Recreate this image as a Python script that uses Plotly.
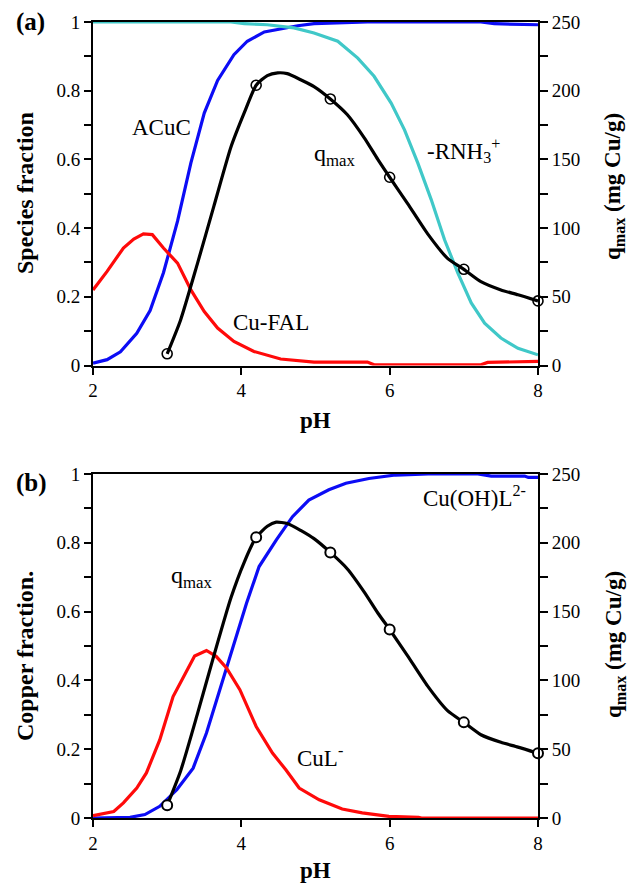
import plotly.graph_objects as go

# ---------------- data ----------------
# Panel (a)
a_acuc_ph = [2.0, 2.19, 2.37, 2.59, 2.77, 2.95, 3.14, 3.32, 3.5, 3.68, 3.9, 4.08, 4.31, 4.53, 4.76, 4.98, 5.43, 5.7, 7.23, 7.41, 8.0]
a_acuc = [0.007, 0.017, 0.04, 0.094, 0.16, 0.27, 0.42, 0.59, 0.735, 0.83, 0.905, 0.944, 0.971, 0.98, 0.989, 0.995, 0.997, 1.0, 1.0, 0.995, 0.992]

a_rnh3_ph = [2.0, 3.86, 4.04, 4.35, 4.71, 4.98, 5.3, 5.57, 5.79, 6.02, 6.2, 6.38, 6.56, 6.74, 6.92, 7.1, 7.28, 7.5, 7.73, 8.0]
a_rnh3 = [1.0, 1.0, 0.995, 0.992, 0.983, 0.968, 0.944, 0.895, 0.842, 0.764, 0.686, 0.589, 0.483, 0.366, 0.269, 0.182, 0.123, 0.08, 0.05, 0.031]

a_cufal_ph = [2.0, 2.19, 2.41, 2.55, 2.68, 2.8, 2.95, 3.14, 3.32, 3.5, 3.68, 3.9, 4.17, 4.53, 4.98, 5.7, 5.79, 7.23, 7.32, 8.0]
a_cufal = [0.22, 0.274, 0.342, 0.368, 0.383, 0.381, 0.342, 0.298, 0.22, 0.157, 0.109, 0.07, 0.041, 0.019, 0.01, 0.01, 0.002, 0.002, 0.009, 0.012]

# q_max curve (mg Cu/g) and measured points
q_line_ph = [3.0, 3.18, 3.41, 3.63, 3.86, 4.04, 4.2, 4.35, 4.49, 4.62, 4.8, 4.98, 5.2, 5.43, 5.66, 5.84, 6.0, 6.24, 6.51, 6.78, 7.0, 7.23, 7.5, 7.73, 8.0]
q_line = [8.5, 33, 74.5, 116, 159, 184, 204, 211, 213, 212.4, 208, 203, 194, 182.5, 165.5, 150, 137, 118, 96, 78, 70, 61, 55, 51.5, 47]
q_pts_ph = [3.0, 4.2, 5.2, 6.0, 7.0, 8.0]
q_pts = [8.5, 204, 194, 137, 70, 47]

# Panel (b)
b_cuohl_ph = [2.0, 2.5, 2.7, 2.9, 3.13, 3.35, 3.53, 3.71, 3.89, 4.07, 4.24, 4.47, 4.69, 4.91, 5.18, 5.41, 5.72, 6.08, 6.52, 7.19, 7.37, 7.82, 7.87, 8.0]
b_cuohl = [0.0, 0.002, 0.01, 0.034, 0.082, 0.145, 0.247, 0.373, 0.499, 0.624, 0.731, 0.808, 0.876, 0.924, 0.954, 0.973, 0.987, 0.997, 1.0, 1.0, 0.994, 0.994, 0.99, 0.99]

b_cul_ph = [2.0, 2.28, 2.41, 2.59, 2.72, 2.9, 3.08, 3.22, 3.37, 3.53, 3.66, 3.8, 3.98, 4.2, 4.42, 4.6, 4.78, 5.05, 5.36, 5.63, 5.99, 6.39, 6.43, 8.0]
b_cul = [0.007, 0.019, 0.044, 0.087, 0.131, 0.227, 0.353, 0.411, 0.471, 0.487, 0.47, 0.436, 0.373, 0.266, 0.189, 0.14, 0.087, 0.053, 0.026, 0.015, 0.005, 0.002, 0.0, 0.0]

b_q_line_ph = [3.0, 3.18, 3.41, 3.63, 3.86, 4.04, 4.2, 4.35, 4.47, 4.62, 4.8, 4.98, 5.2, 5.43, 5.66, 5.84, 6.0, 6.24, 6.51, 6.78, 7.0, 7.23, 7.5, 7.73, 8.0]
b_q_line = [9.2, 34, 76, 118, 160, 186, 204, 212, 215, 214, 209, 203, 193, 181, 164, 149, 137, 118, 96, 78, 69.5, 60.5, 55, 51.5, 47]
b_q_pts_ph = [3.0, 4.2, 5.2, 6.0, 7.0, 8.0]
b_q_pts = [9.2, 204, 193, 137, 69.5, 47]

x_ticks = [2, 4, 6, 8]

# ---------------- styling ----------------
FONT = "Liberation Serif"
RED = "#ff0a0a"
BLUE = "#0c0cf5"
CYAN = "#40c8c8"
LW = 3.2

fig = go.Figure()

# panel a species
fig.add_trace(go.Scatter(x=a_acuc_ph, y=a_acuc, mode="lines", line=dict(color=BLUE, width=LW), xaxis="x", yaxis="y"))
fig.add_trace(go.Scatter(x=a_rnh3_ph, y=a_rnh3, mode="lines", line=dict(color=CYAN, width=LW), xaxis="x", yaxis="y"))
fig.add_trace(go.Scatter(x=a_cufal_ph, y=a_cufal, mode="lines", line=dict(color=RED, width=LW), xaxis="x", yaxis="y"))
fig.add_trace(go.Scatter(x=q_line_ph, y=q_line, mode="lines", line=dict(color="black", width=LW, shape="spline", smoothing=0.6), xaxis="x", yaxis="y2"))
fig.add_trace(go.Scatter(x=q_pts_ph, y=q_pts, mode="markers",
                         marker=dict(symbol="circle-open", size=10, color="black", line=dict(width=1.6)),
                         xaxis="x", yaxis="y2", cliponaxis=False))

# panel b
fig.add_trace(go.Scatter(x=b_cuohl_ph, y=b_cuohl, mode="lines", line=dict(color=BLUE, width=LW), xaxis="x2", yaxis="y3"))
fig.add_trace(go.Scatter(x=b_cul_ph, y=b_cul, mode="lines", line=dict(color=RED, width=LW), xaxis="x2", yaxis="y3"))
fig.add_trace(go.Scatter(x=b_q_line_ph, y=b_q_line, mode="lines", line=dict(color="black", width=LW, shape="spline", smoothing=0.6), xaxis="x2", yaxis="y4"))
fig.add_trace(go.Scatter(x=b_q_pts_ph, y=b_q_pts, mode="markers",
                         marker=dict(symbol="circle", size=10, color="white", line=dict(width=2, color="black")),
                         xaxis="x2", yaxis="y4", cliponaxis=False))

XD = [93 / 630, 538 / 630]
YA = [1 - 365.5 / 885, 1 - 22 / 885]
YB = [1 - 818 / 885, 1 - 474 / 885]

tickfont = dict(family=FONT, size=19, color="black")

def xaxis(anchor, domain):
    return dict(domain=domain, anchor=anchor, range=[2, 8], tickvals=x_ticks, ticks="outside", ticklen=7,
                tickwidth=1.5, linecolor="black", linewidth=2, showline=True, mirror=True, showgrid=False,
                zeroline=False, tickfont=tickfont, tickcolor="black", automargin=False)

def yleft(anchor, domain):
    return dict(domain=domain, anchor=anchor, range=[0, 1], dtick=0.2, ticks="outside", ticklen=7, tickwidth=1.5,
                tickcolor="black", linecolor="black", linewidth=2, showline=True, showgrid=False, zeroline=False,
                tickfont=tickfont, automargin=False,
                minor=dict(dtick=0.1, ticks="outside", ticklen=7, tickwidth=1.5, tickcolor="black"))

def yright(anchor, overlay):
    return dict(anchor=anchor, overlaying=overlay, side="right", range=[0, 250], dtick=50, ticks="outside", ticklen=8,
                tickwidth=1.5, tickcolor="black", linecolor="black", linewidth=2, showline=True, showgrid=False,
                zeroline=False, tickfont=tickfont, automargin=False,
                minor=dict(dtick=25, ticks="outside", ticklen=8, tickwidth=1.5, tickcolor="black"))

def yinside(anchor, overlay):
    return dict(anchor=anchor, overlaying=overlay, side="right", range=[0, 250], dtick=50, ticks="inside", ticklen=7,
                tickwidth=1.5, tickcolor="black", showline=False, showgrid=False, zeroline=False,
                showticklabels=False, automargin=False)

fig.update_layout(
    template="none",
    width=630, height=885,
    margin=dict(l=0, r=0, t=0, b=0, autoexpand=False),
    paper_bgcolor="white", plot_bgcolor="white",
    showlegend=False,
    font=dict(family=FONT, color="black"),
    xaxis=xaxis("y", XD),
    yaxis=yleft("x", YA),
    yaxis2=yright("x", "y"),
    xaxis2=xaxis("y3", XD),
    yaxis3=yleft("x2", YB),
    yaxis4=yright("x2", "y3"),
    yaxis5=yinside("x", "y"),
    yaxis6=yinside("x2", "y3"),
)

def px(x, y):
    return x / 630, 1 - y / 885

annots = []
def ann(text, x, y, size=20, bold=False, angle=0):
    ax, ay = px(x, y)
    t = f"<b>{text}</b>" if bold else text
    annots.append(dict(text=t, x=ax, y=ay, xref="paper", yref="paper", showarrow=False, textangle=angle,
                       font=dict(family=FONT, size=size, color="black"), xanchor="center", yanchor="middle"))

# panel labels
ann("(a)", 30, 22, size=25, bold=True)
ann("(b)", 31, 483, size=25, bold=True)
# axis titles
ann("Species fraction", 25, 193, size=24, bold=True, angle=-90)
ann("Copper fraction.", 25, 656, size=24, bold=True, angle=-90)
ann("q<sub>max</sub> (mg Cu/g)", 614, 187, size=23, bold=True, angle=-90)
ann("q<sub>max</sub> (mg Cu/g)", 615, 645, size=23, bold=True, angle=-90)
ann("pH", 315, 420, size=23, bold=True)
ann("pH", 315, 870, size=23, bold=True)
# curve labels panel a
ann("ACuC", 162, 128, size=23)
ann("q<sub>max</sub>", 335, 155, size=24)
ann("-RNH<sub>3</sub><sup>+</sup>", 463, 150, size=23)
ann("Cu-FAL", 271, 322, size=23)
# curve labels panel b
ann("Cu(OH)L<sup>2-</sup>", 474, 496, size=23)
ann("q<sub>max</sub>", 192, 577, size=24)
ann("CuL<sup>-</sup>", 320, 756, size=23)

fig.update_layout(annotations=annots)

fig.write_html("out.html", config={"displayModeBar": False},
               post_script="document.body.style.margin='0';document.body.style.padding='0';document.body.style.overflow='hidden';")
